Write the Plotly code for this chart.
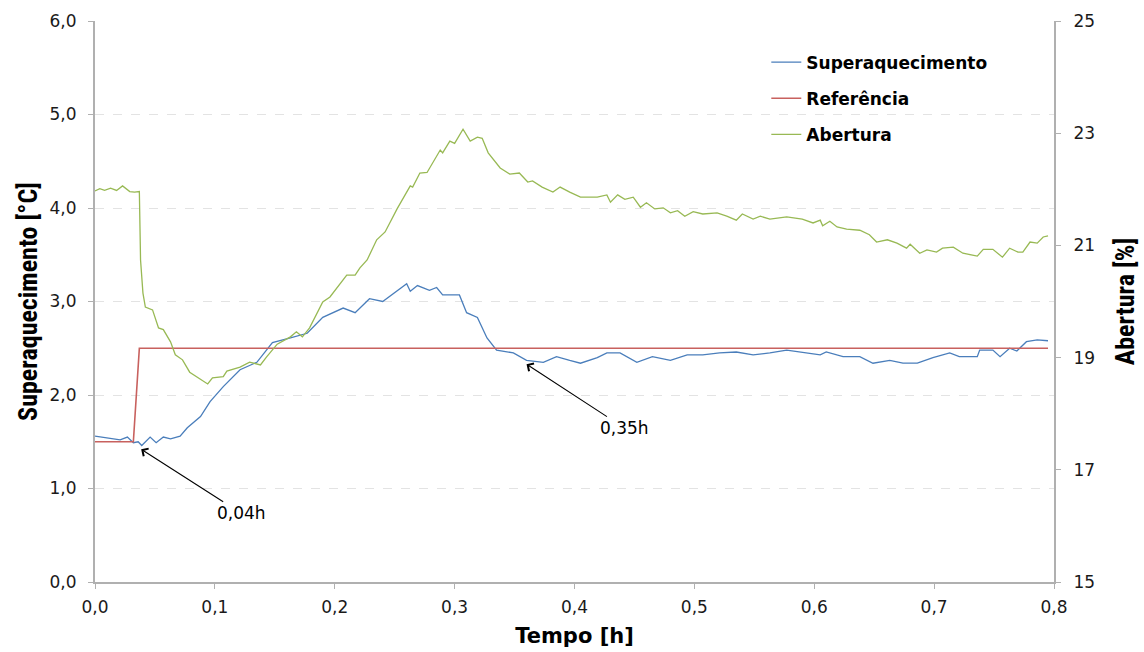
import plotly.graph_objects as go

# ---- data ----
t_sup = [0.000, 0.013, 0.021, 0.027, 0.032, 0.036, 0.039, 0.046, 0.051, 0.057, 0.063, 0.071,
         0.077, 0.088, 0.096, 0.107, 0.121, 0.135, 0.148, 0.163, 0.177, 0.190, 0.207, 0.217,
         0.229, 0.240, 0.249, 0.260, 0.263, 0.269, 0.279, 0.285, 0.290, 0.304, 0.310, 0.319,
         0.327, 0.335, 0.349, 0.360, 0.374, 0.385, 0.396, 0.405, 0.419, 0.427, 0.438, 0.452,
         0.465, 0.480, 0.494, 0.507, 0.521, 0.535, 0.549, 0.563, 0.577, 0.590, 0.605, 0.610,
         0.624, 0.638, 0.649, 0.663, 0.674, 0.686, 0.699, 0.713, 0.721, 0.736, 0.738, 0.749,
         0.755, 0.763, 0.769, 0.777, 0.786, 0.795]
superaquecimento = [1.56, 1.54, 1.52, 1.55, 1.49, 1.50, 1.46, 1.55, 1.49, 1.55, 1.53, 1.56,
                    1.65, 1.77, 1.93, 2.09, 2.27, 2.35, 2.56, 2.61, 2.66, 2.83, 2.93, 2.88,
                    3.03, 3.00, 3.09, 3.19, 3.11, 3.17, 3.12, 3.15, 3.07, 3.07, 2.88, 2.83,
                    2.61, 2.48, 2.45, 2.37, 2.35, 2.41, 2.37, 2.34, 2.40, 2.45, 2.45, 2.35,
                    2.41, 2.37, 2.43, 2.43, 2.45, 2.46, 2.43, 2.45, 2.48, 2.46, 2.43, 2.46,
                    2.41, 2.41, 2.34, 2.37, 2.34, 2.34, 2.40, 2.45, 2.41, 2.41, 2.48, 2.48,
                    2.41, 2.50, 2.47, 2.57, 2.59, 2.58]

t_ref = [0.000, 0.032, 0.037, 0.795]
referencia = [1.5, 1.5, 2.5, 2.5]

t_abe = [0.000, 0.004, 0.008, 0.013, 0.018, 0.023, 0.029, 0.033, 0.037, 0.038, 0.040, 0.042,
         0.048, 0.053, 0.057, 0.063, 0.067, 0.073, 0.079, 0.086, 0.094, 0.098, 0.107, 0.110,
         0.121, 0.129, 0.138, 0.143, 0.152, 0.163, 0.168, 0.173, 0.179, 0.190, 0.196, 0.210,
         0.217, 0.221, 0.227, 0.235, 0.242, 0.252, 0.263, 0.265, 0.271, 0.277, 0.288, 0.290,
         0.296, 0.300, 0.307, 0.313, 0.319, 0.323, 0.328, 0.338, 0.346, 0.354, 0.361, 0.365,
         0.373, 0.382, 0.388, 0.396, 0.405, 0.419, 0.427, 0.430, 0.436, 0.442, 0.449, 0.455,
         0.460, 0.467, 0.474, 0.480, 0.486, 0.492, 0.499, 0.507, 0.519, 0.527, 0.535, 0.540,
         0.549, 0.555, 0.563, 0.577, 0.590, 0.599, 0.605, 0.607, 0.613, 0.619, 0.627, 0.638,
         0.646, 0.652, 0.661, 0.669, 0.677, 0.680, 0.688, 0.694, 0.702, 0.707, 0.716, 0.724,
         0.736, 0.741, 0.749, 0.757, 0.763, 0.770, 0.774, 0.780, 0.786, 0.791, 0.795]
abertura = [21.97, 22.01, 21.98, 22.02, 21.98, 22.06, 21.96, 21.95, 21.96, 20.74, 20.15, 19.90,
            19.85, 19.53, 19.50, 19.28, 19.05, 18.96, 18.74, 18.64, 18.53, 18.64, 18.66, 18.76,
            18.83, 18.92, 18.87, 19.01, 19.24, 19.37, 19.46, 19.37, 19.53, 19.99, 20.08, 20.47,
            20.47, 20.60, 20.74, 21.10, 21.24, 21.65, 22.06, 22.04, 22.29, 22.30, 22.70, 22.65,
            22.86, 22.82, 23.07, 22.86, 22.93, 22.91, 22.65, 22.38, 22.27, 22.29, 22.13, 22.15,
            22.04, 21.95, 22.04, 21.95, 21.86, 21.86, 21.90, 21.77, 21.90, 21.82, 21.86, 21.68,
            21.76, 21.65, 21.67, 21.58, 21.62, 21.52, 21.60, 21.56, 21.58, 21.52, 21.45, 21.56,
            21.47, 21.52, 21.47, 21.51, 21.47, 21.40, 21.45, 21.35, 21.43, 21.33, 21.29, 21.27,
            21.19, 21.06, 21.10, 21.04, 20.95, 21.02, 20.86, 20.92, 20.88, 20.95, 20.97, 20.86,
            20.81, 20.93, 20.93, 20.79, 20.95, 20.88, 20.88, 21.06, 21.04, 21.15, 21.17]

x_ticks = [0, 0.1, 0.2, 0.3, 0.4, 0.5, 0.6, 0.7, 0.8]
y_left_ticks = [0, 1, 2, 3, 4, 5, 6]
y_right_ticks = [15, 17, 19, 21, 23, 25]

annot_t = [0.0385, 0.360]
annot_y = [1.42, 2.33]
annot_text = ["0,04h", "0,35h"]

# ---- figure ----
AXIS_COLOR = "#b0b0b0"
GRID_COLOR = "#e3e3e3"
TICK_FONT = dict(family="DejaVu Sans, Verdana, sans-serif", size=17, color="#1a1a1a")
NARROW = "Liberation Sans Narrow, Arial Narrow, Roboto Condensed, Roboto, sans-serif"

fig = go.Figure()
fig.add_trace(go.Scatter(x=t_sup, y=superaquecimento, mode="lines", name="Superaquecimento",
                         line=dict(color="#4a7ebb", width=1.3), legendgroup="a"))
fig.add_trace(go.Scatter(x=t_ref, y=referencia, mode="lines", name="Referência",
                         line=dict(color="#c8615e", width=1.6), legendgroup="b"))
fig.add_trace(go.Scatter(x=t_abe, y=abertura, mode="lines", name="Abertura", yaxis="y2",
                         line=dict(color="#98b954", width=1.3), legendgroup="c"))

for tx, ty, txt, ax, ay in zip(annot_t, annot_y, annot_text, [100, 98], [64, 64]):
    fig.add_annotation(x=tx, y=ty, xref="x", yref="y", text=txt, showarrow=True,
                       ax=ax, ay=ay, arrowhead=4, arrowsize=1.6, arrowwidth=1.1,
                       arrowcolor="#000000", font=dict(family="DejaVu Sans, Verdana, sans-serif",
                                                       size=17, color="#000000"))

fig.update_layout(
    width=1144, height=652,
    margin=dict(l=95, r=90, t=21, b=70),
    paper_bgcolor="white", plot_bgcolor="white",
    separators=",.",
    showlegend=True,
    legend=dict(x=0.70, y=0.958, xanchor="left", yanchor="top",
                font=dict(family="DejaVu Sans, Verdana, sans-serif", size=17, color="#000000",
                          weight="bold"),
                tracegroupgap=11, bgcolor="rgba(0,0,0,0)"),
    xaxis=dict(range=[0, 0.8], tickvals=x_ticks, tickformat=".1f", automargin=False,
               showline=True, linecolor=AXIS_COLOR, linewidth=2,
               ticks="outside", ticklen=5, tickcolor=AXIS_COLOR, tickwidth=1,
               showgrid=False, zeroline=False, tickfont=TICK_FONT, ticklabelstandoff=4,
               title=dict(text="<b>Tempo [h]</b>", standoff=12,
                          font=dict(family="DejaVu Sans, Verdana, sans-serif", size=21,
                                    color="#000000"))),
    yaxis=dict(range=[0, 6], tickvals=y_left_ticks, tickformat=".1f", automargin=False,
               showline=True, linecolor=AXIS_COLOR, linewidth=2,
               ticks="outside", ticklen=5, tickcolor=AXIS_COLOR, tickwidth=1,
               showgrid=True, gridcolor=GRID_COLOR, griddash="dash", gridwidth=1,
               zeroline=False, tickfont=TICK_FONT, ticklabelstandoff=8,
               title=dict(text="<b>Superaquecimento [°C]</b>", standoff=4,
                          font=dict(family=NARROW, size=26, color="#000000"))),
    yaxis2=dict(range=[15, 25], tickvals=y_right_ticks, overlaying="y", side="right",
                automargin=False,
                showline=True, linecolor=AXIS_COLOR, linewidth=2,
                ticks="outside", ticklen=5, tickcolor=AXIS_COLOR, tickwidth=1,
                showgrid=False, zeroline=False, tickfont=TICK_FONT, ticklabelstandoff=9,
                title=dict(text="<b>Abertura [%]</b>", standoff=22,
                           font=dict(family=NARROW, size=26, color="#000000"))),
)

fig.write_html("out.html")
